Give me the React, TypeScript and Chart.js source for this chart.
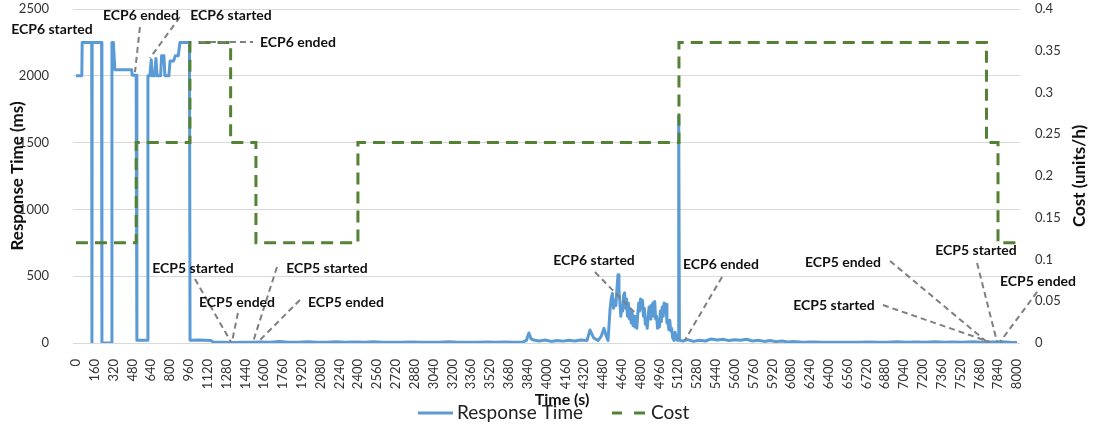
import React, { useEffect, useRef } from "react";
import { Chart, registerables } from "chart.js";

Chart.register(...registerables);

// ---- Data ----
const xTickLabels = [
  0, 160, 320, 480, 640, 800, 960, 1120, 1280, 1440, 1600, 1760, 1920, 2080, 2240, 2400, 2560,
  2720, 2880, 3040, 3200, 3360, 3520, 3680, 3840, 4000, 4160, 4320, 4480, 4640, 4800, 4960,
  5120, 5280, 5440, 5600, 5760, 5920, 6080, 6240, 6400, 6560, 6720, 6880, 7040, 7200, 7360,
  7520, 7680, 7840, 8000,
];
const leftTicks = [0, 500, 1000, 1500, 2000, 2500];
const rightTicks = [0, 0.05, 0.1, 0.15, 0.2, 0.25, 0.3, 0.35, 0.4];

// Response time (ms): [time (s), value]
const responseTime: [number, number][] = [
  [0, 2000], [50, 2000], [53, 2250], [134, 2250], [136, 0], [138, 2250], [218, 2250], [221, 0],
  [303, 0], [306, 2250], [318, 2250], [331, 2045], [474, 2045], [478, 2005], [512, 2005], [518, 20],
  [606, 20], [612, 2000], [628, 2000], [640, 2120], [648, 2000], [668, 2000], [680, 2130], [690, 2000],
  [720, 2000], [728, 2150], [748, 2150], [756, 2000], [790, 2000], [800, 2110], [830, 2110], [845, 2150],
  [870, 2150], [884, 2250], [965, 2250], [970, 20], [1050, 22], [1150, 18], [1170, 5],
  [1250, 5], [1330, 4], [1410, 6], [1490, 5], [1570, 7], [1650, 5], [1730, 12], [1810, 6], [1890, 5],
  [1970, 10], [2050, 6], [2130, 5], [2210, 9], [2290, 5], [2370, 7], [2450, 5], [2530, 10], [2610, 5],
  [2690, 6], [2770, 5], [2850, 8], [2930, 5], [3010, 6], [3090, 5], [3170, 9], [3250, 5], [3330, 6],
  [3410, 5], [3490, 8], [3570, 5], [3650, 7], [3730, 5], [3800, 8], [3830, 20], [3850, 75], [3870, 30],
  [3900, 20], [3940, 15], [3990, 22], [4040, 12], [4090, 18], [4140, 14], [4190, 20], [4240, 15],
  [4290, 22], [4344, 18], [4370, 97], [4400, 40], [4438, 18], [4465, 50], [4489, 110], [4505, 60],
  [4523, 18], [4540, 250], [4550, 330], [4560, 370], [4570, 260], [4580, 320], [4590, 280], [4600, 420],
  [4608, 510], [4616, 400], [4624, 300], [4632, 200], [4640, 280], [4648, 240], [4656, 360], [4664, 375],
  [4672, 260], [4680, 330], [4688, 200], [4696, 300], [4704, 180], [4712, 250], [4720, 150], [4728, 225],
  [4736, 130], [4744, 200], [4752, 120], [4760, 170], [4768, 110], [4776, 220], [4784, 300], [4792, 240],
  [4800, 330], [4808, 260], [4816, 320], [4824, 200], [4832, 260], [4840, 140], [4848, 180], [4856, 110],
  [4864, 200], [4872, 270], [4880, 180], [4888, 280], [4896, 230], [4904, 300], [4912, 200], [4920, 310],
  [4928, 180], [4936, 200], [4944, 110], [4952, 150], [4960, 120], [4968, 240], [4976, 160], [4984, 270],
  [4992, 200], [5000, 300], [5008, 230], [5016, 290], [5024, 150], [5032, 160], [5040, 100], [5048, 170],
  [5056, 90], [5064, 110], [5072, 40], [5084, 20], [5093, 80], [5110, 20], [5120, 20], [5124, 1700],
  [5130, 20], [5160, 15], [5200, 25], [5250, 12], [5300, 20], [5350, 15], [5400, 30], [5450, 22],
  [5500, 28], [5550, 18], [5600, 25], [5650, 20], [5700, 28], [5750, 15], [5800, 20], [5850, 12],
  [5900, 18], [5950, 10], [6000, 15], [6050, 8], [6100, 12], [6180, 5], [6260, 7], [6340, 5],
  [6420, 5], [6500, 6], [6580, 5], [6660, 5], [6740, 8], [6820, 5], [6900, 5], [6980, 10],
  [7060, 5], [7140, 8], [7220, 5], [7300, 10], [7380, 6], [7460, 8], [7540, 5], [7620, 10],
  [7700, 6], [7780, 8], [7860, 10], [7940, 5], [8000, 3],
];

// Cost (units/h) vs time (s)
const costTime = [0, 512, 512, 969, 969, 1315, 1315, 1530, 1530, 2397, 2397, 5126, 5126, 7740, 7740, 7838, 7838, 8000];
const costValue = [0.12, 0.12, 0.24, 0.24, 0.36, 0.36, 0.24, 0.24, 0.12, 0.12, 0.24, 0.24, 0.36, 0.36, 0.24, 0.24, 0.12, 0.12];

// Annotations: label anchor (time, left-axis value) and leader line from -> to
const annotations = [
  { text: "ECP6 started", t: -204, v: 2343 },
  { text: "ECP6 ended", t: 553, v: 2448, from: [544, 2365], to: [502, 2028] },
  { text: "ECP6 started", t: 1318, v: 2448, from: [884, 2440], to: [629, 2133] },
  { text: "ECP6 ended", t: 1887, v: 2253, from: [1054, 2253], to: [1505, 2253] },
  { text: "ECP5 started", t: 995, v: 561, from: [1012, 479], to: [1318, 7] },
  { text: "ECP5 ended", t: 1369, v: 307, from: [1377, 225], to: [1326, 7] },
  { text: "ECP5 started", t: 2134, v: 561, from: [1709, 569], to: [1505, 7] },
  { text: "ECP5 ended", t: 2295, v: 307, from: [1904, 322], to: [1547, 7] },
  { text: "ECP6 started", t: 4404, v: 621, from: [4412, 531], to: [4769, 210] },
  { text: "ECP6 ended", t: 5483, v: 591, from: [5492, 494], to: [5177, 22] },
  { text: "ECP5 ended", t: 6520, v: 606, from: [6920, 614], to: [7745, 7] },
  { text: "ECP5 started", t: 6444, v: 284, from: [6860, 284], to: [7770, 7] },
  { text: "ECP5 started", t: 7651, v: 696, from: [7660, 599], to: [7830, 7] },
  { text: "ECP5 ended", t: 8178, v: 464, from: [8170, 382], to: [7855, 7] },
];

const BLUE = "#5B9BD5";
const GREEN = "#548235";
const FONT = "Lato, 'Open Sans', sans-serif";

const overlay = {
  id: "overlay",
  afterDatasetsDraw(chart: any) {
    const ctx = chart.ctx;
    const xs = chart.scales.x;
    const ys = chart.scales.y;
    const area = chart.chartArea;
    ctx.save();
    // leader lines
    ctx.strokeStyle = "#7f7f7f";
    ctx.lineWidth = 2;
    ctx.setLineDash([6, 4]);
    annotations.forEach((a: any) => {
      if (!a.from) return;
      ctx.beginPath();
      ctx.moveTo(xs.getPixelForValue(a.from[0]), ys.getPixelForValue(a.from[1]));
      ctx.lineTo(xs.getPixelForValue(a.to[0]), ys.getPixelForValue(a.to[1]));
      ctx.stroke();
    });
    ctx.setLineDash([]);
    // labels
    ctx.font = `bold 14px ${FONT}`;
    ctx.fillStyle = "#111";
    ctx.textAlign = "center";
    ctx.textBaseline = "middle";
    annotations.forEach((a: any) => {
      ctx.fillText(a.text, xs.getPixelForValue(a.t), ys.getPixelForValue(a.v));
    });

    // axis titles
    const midY = (area.top + area.bottom) / 2;
    ctx.font = `bold 17px ${FONT}`;
    ctx.save();
    ctx.translate(18, midY);
    ctx.rotate(-Math.PI / 2);
    ctx.fillText("Response Time (ms)", 0, 0);
    ctx.restore();
    ctx.save();
    ctx.translate(1080, midY);
    ctx.rotate(-Math.PI / 2);
    ctx.fillText("Cost (units/h)", 0, 0);
    ctx.restore();
    ctx.font = `bold 16px ${FONT}`;
    ctx.fillText("Time (s)", 562, 400);

    // legend
    ctx.lineWidth = 3;
    ctx.strokeStyle = BLUE;
    ctx.beginPath();
    ctx.moveTo(418, 413);
    ctx.lineTo(453, 413);
    ctx.stroke();
    ctx.strokeStyle = GREEN;
    ctx.beginPath();
    ctx.moveTo(612, 413);
    ctx.lineTo(622, 413);
    ctx.moveTo(634, 413);
    ctx.lineTo(645, 413);
    ctx.stroke();
    ctx.font = `19px ${FONT}`;
    ctx.fillStyle = "#222";
    ctx.textAlign = "left";
    ctx.fillText("Response Time", 457, 413);
    ctx.fillText("Cost", 651, 413);
    ctx.restore();
  },
};

export default function App() {
  const ref = useRef<HTMLCanvasElement | null>(null);
  useEffect(() => {
    if (!ref.current) return;
    const tickFont = { family: FONT, size: 13 };
    const noPad = (s: any) => {
      s.paddingTop = 0;
      s.paddingBottom = 0;
      s.paddingLeft = 0;
      s.paddingRight = 0;
    };
    const chart = new Chart(ref.current, {
      type: "line",
      data: {
        datasets: [
          {
            label: "Cost",
            data: costTime.map((t, i) => ({ x: t, y: costValue[i] })),
            yAxisID: "y1",
            borderColor: GREEN,
            borderWidth: 3,
            borderDash: [12, 7],
            pointRadius: 0,
            tension: 0,
            fill: false,
            order: 0,
          },
          {
            label: "Response Time",
            data: responseTime.map(([t, v]) => ({ x: t, y: v })),
            yAxisID: "y",
            borderColor: BLUE,
            borderWidth: 3,
            borderJoinStyle: "round",
            pointRadius: 0,
            tension: 0,
            fill: false,
            order: 1,
          },
        ],
      },
      options: {
        responsive: false,
        animation: false,
        events: [],
        layout: { padding: { top: 9, left: 0, right: 0, bottom: 0 }, autoPadding: false },
        plugins: { legend: { display: false }, tooltip: { enabled: false }, title: { display: false } },
        scales: {
          x: {
            type: "linear",
            min: -25,
            max: 8025,
            afterBuildTicks: (s: any) => {
              s.ticks = xTickLabels.map((v) => ({ value: v }));
            },
            afterFit: (s: any) => {
              s.height = 83;
              noPad(s);
            },
            grid: { display: false },
            border: { display: false },
            ticks: {
              autoSkip: false,
              minRotation: 90,
              maxRotation: 90,
              padding: 8,
              font: tickFont,
              color: "#333",
              callback: (v: any) => String(v),
            },
          },
          y: {
            position: "left",
            min: 0,
            max: 2500,
            afterBuildTicks: (s: any) => {
              s.ticks = leftTicks.map((v) => ({ value: v }));
            },
            afterFit: (s: any) => {
              s.width = 73;
              noPad(s);
            },
            grid: { color: "#d9d9d9", lineWidth: 1, drawTicks: false },
            border: { display: false },
            ticks: { padding: 24, font: tickFont, color: "#333", callback: (v: any) => String(v) },
          },
          y1: {
            position: "right",
            min: 0,
            max: 0.4,
            afterBuildTicks: (s: any) => {
              s.ticks = rightTicks.map((v) => ({ value: v }));
            },
            afterFit: (s: any) => {
              s.width = 78;
              noPad(s);
            },
            grid: { display: false, drawTicks: false },
            border: { display: false },
            ticks: { padding: 15, font: tickFont, color: "#333", callback: (v: any) => String(v) },
          },
        },
      },
      plugins: [overlay],
    } as any);
    return () => chart.destroy();
  }, []);
  return (
    <div style={{ position: "fixed", left: 0, top: 0, width: 1098, height: 426, background: "#fff" }}>
      <canvas ref={ref} width={1098} height={426} style={{ display: "block" }} />
    </div>
  );
}
